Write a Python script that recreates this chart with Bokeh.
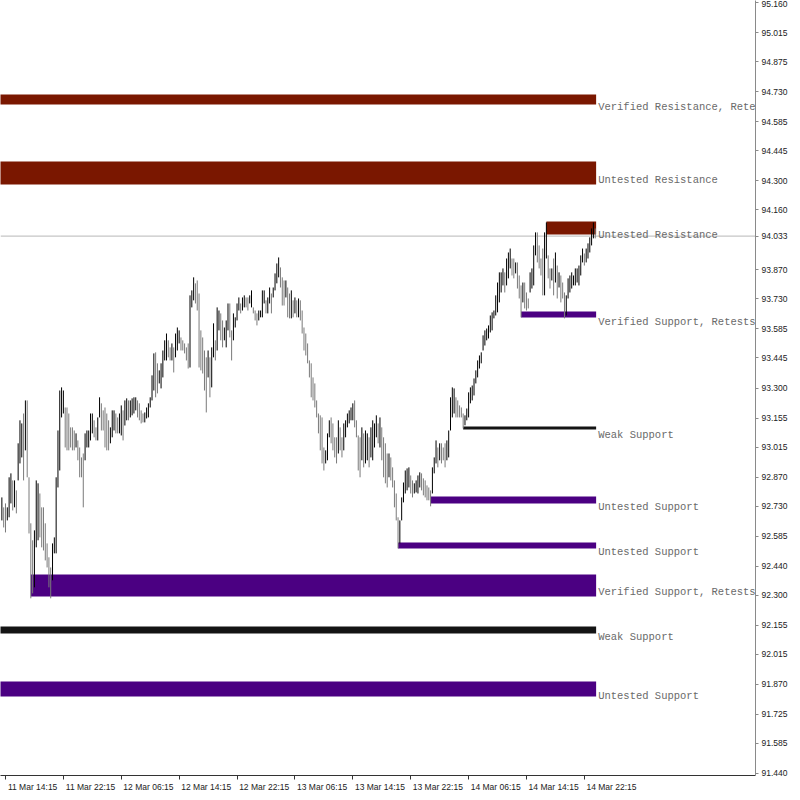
import pandas as pd
from bokeh.plotting import figure
from bokeh.models import ColumnDataSource, FixedTicker, Span, PrintfTickFormatter
from bokeh.core.properties import value
from bokeh.embed import file_html
from bokeh.resources import INLINE

# ---------------- data ----------------
first_bar_time = "2019-03-11 13:45"   # M15 bars
last_price = 94.033

highs = [
    92.772, 92.724, 92.743, 92.724, 92.869, 92.888, 92.854, 92.854, 92.806, 93.033,
    93.144, 93.129, 93.177, 93.240, 93.240, 92.869, 92.647, 92.565, 92.613, 92.854,
    92.840, 92.791, 92.724, 92.724, 92.647, 92.550, 92.483, 92.434, 92.550, 92.579,
    92.869, 93.095, 93.288, 93.303, 93.288, 93.206, 93.206, 93.177, 93.110, 93.110,
    93.095, 93.081, 93.047, 93.013, 92.965, 92.984, 93.081, 93.095, 93.095, 93.177,
    93.177, 93.144, 93.110, 93.158, 93.255, 93.226, 93.192, 93.206, 93.177, 93.144,
    93.110, 93.192, 93.192, 93.177, 93.158, 93.177, 93.216, 93.192, 93.240, 93.250,
    93.240, 93.240, 93.250, 93.255, 93.255, 93.240, 93.226, 93.192, 93.177, 93.182,
    93.206, 93.226, 93.255, 93.361, 93.467, 93.472, 93.419, 93.385, 93.419, 93.481,
    93.530, 93.563, 93.530, 93.496, 93.515, 93.496, 93.563, 93.592, 93.578, 93.544,
    93.530, 93.515, 93.496, 93.515, 93.747, 93.771, 93.834, 93.805, 93.819, 93.756,
    93.578, 93.544, 93.481, 93.448, 93.481, 93.448, 93.496, 93.612, 93.530, 93.689,
    93.674, 93.660, 93.626, 93.592, 93.626, 93.708, 93.708, 93.578, 93.660, 93.641,
    93.708, 93.737, 93.708, 93.737, 93.747, 93.737, 93.737, 93.747, 93.771, 93.689,
    93.674, 93.660, 93.674, 93.674, 93.771, 93.771, 93.723, 93.737, 93.785, 93.756,
    93.785, 93.853, 93.901, 93.930, 93.882, 93.834, 93.819, 93.819, 93.785, 93.756,
    93.771, 93.723, 93.737, 93.723, 93.732, 93.723, 93.674, 93.592, 93.563, 93.515,
    93.433, 93.419, 93.351, 93.322, 93.240, 93.177, 93.168, 93.158, 93.013, 92.999,
    93.081, 93.144, 93.158, 93.129, 93.062, 93.062, 93.144, 93.110, 93.062, 93.129,
    93.144, 93.177, 93.192, 93.206, 93.226, 93.240, 93.144, 93.071, 93.062, 93.110,
    93.081, 93.095, 93.081, 93.062, 93.110, 93.144, 93.129, 93.168, 93.129, 93.158,
    93.110, 93.062, 93.033, 92.984, 92.984, 92.965, 92.917, 92.854, 92.791, 92.676,
    92.661, 92.772, 92.844, 92.902, 92.912, 92.917, 92.878, 92.854, 92.840, 92.854,
    92.878, 92.893, 92.888, 92.864, 92.854, 92.830, 92.820, 92.806, 92.917, 92.965,
    93.047, 93.013, 93.033, 93.033, 93.013, 93.033, 93.047, 93.095, 93.255, 93.303,
    93.298, 93.255, 93.240, 93.216, 93.206, 93.177, 93.168, 93.201, 93.279, 93.303,
    93.312, 93.346, 93.385, 93.433, 93.457, 93.472, 93.554, 93.578, 93.587, 93.602,
    93.650, 93.665, 93.674, 93.747, 93.809, 93.858, 93.858, 93.877, 93.858, 93.925,
    93.954, 93.973, 93.925, 93.925, 93.906, 93.906, 93.843, 93.795, 93.809, 93.809,
    93.761, 93.732, 93.858, 93.877, 93.988, 94.051, 94.051, 93.988, 93.925, 93.973,
    94.051, 94.099, 93.940, 93.877, 93.877, 93.925, 93.954, 93.891, 93.858, 93.843,
    93.809, 93.761, 93.747, 93.829, 93.843, 93.858, 93.843, 93.877, 93.877, 93.891,
    93.940, 93.973, 93.949, 93.973, 93.998, 94.027, 94.070, 94.099, 94.070,
]

lows = [
    92.661, 92.627, 92.603, 92.661, 92.676, 92.743, 92.709, 92.724, 92.695, 92.854,
    92.936, 92.965, 92.854, 92.999, 92.869, 92.598, 92.285, 92.309, 92.338, 92.531,
    92.565, 92.579, 92.531, 92.516, 92.468, 92.434, 92.338, 92.285, 92.372, 92.502,
    92.502, 92.820, 92.902, 93.158, 93.177, 93.013, 92.999, 92.999, 93.013, 92.999,
    92.999, 93.013, 92.951, 92.869, 92.869, 92.724, 92.951, 93.013, 93.013, 93.047,
    93.081, 93.062, 93.047, 93.047, 93.158, 93.095, 93.095, 93.013, 92.999, 92.999,
    93.033, 93.062, 93.095, 93.081, 93.081, 93.081, 93.071, 93.047, 93.119, 93.144,
    93.144, 93.158, 93.168, 93.177, 93.192, 93.158, 93.144, 93.129, 93.134, 93.134,
    93.153, 93.158, 93.206, 93.240, 93.288, 93.255, 93.274, 93.322, 93.298, 93.351,
    93.433, 93.433, 93.448, 93.433, 93.433, 93.375, 93.448, 93.481, 93.515, 93.481,
    93.481, 93.467, 93.433, 93.394, 93.399, 93.689, 93.723, 93.708, 93.674, 93.399,
    93.385, 93.370, 93.288, 93.182, 93.351, 93.255, 93.303, 93.448, 93.433, 93.481,
    93.578, 93.530, 93.496, 93.530, 93.496, 93.578, 93.544, 93.433, 93.530, 93.592,
    93.626, 93.674, 93.660, 93.674, 93.689, 93.689, 93.674, 93.708, 93.689, 93.660,
    93.626, 93.602, 93.626, 93.641, 93.641, 93.708, 93.660, 93.660, 93.708, 93.660,
    93.737, 93.771, 93.805, 93.834, 93.785, 93.698, 93.698, 93.737, 93.641, 93.636,
    93.636, 93.641, 93.660, 93.641, 93.641, 93.626, 93.563, 93.481, 93.457, 93.419,
    93.351, 93.255, 93.240, 93.206, 93.158, 93.081, 92.999, 92.936, 92.902, 92.936,
    92.951, 93.062, 93.033, 92.999, 92.965, 92.936, 92.984, 92.999, 92.965, 92.999,
    93.062, 93.110, 93.129, 93.144, 93.144, 93.110, 93.062, 92.902, 92.869, 92.951,
    92.917, 92.936, 92.951, 92.917, 92.965, 92.951, 93.013, 93.062, 93.033, 93.013,
    92.951, 92.869, 92.840, 92.820, 92.869, 92.854, 92.820, 92.724, 92.661, 92.526,
    92.550, 92.661, 92.748, 92.791, 92.806, 92.820, 92.791, 92.772, 92.791, 92.796,
    92.791, 92.820, 92.806, 92.782, 92.772, 92.758, 92.758, 92.729, 92.791, 92.888,
    92.936, 92.917, 92.951, 92.936, 92.951, 92.917, 92.951, 92.965, 93.095, 93.158,
    93.177, 93.158, 93.158, 93.158, 93.158, 93.105, 93.120, 93.144, 93.158, 93.226,
    93.240, 93.264, 93.322, 93.351, 93.394, 93.419, 93.481, 93.505, 93.530, 93.539,
    93.568, 93.578, 93.636, 93.650, 93.665, 93.713, 93.761, 93.795, 93.761, 93.795,
    93.829, 93.877, 93.843, 93.829, 93.853, 93.780, 93.732, 93.641, 93.713, 93.684,
    93.674, 93.684, 93.761, 93.780, 93.795, 93.940, 93.906, 93.877, 93.843, 93.747,
    93.747, 93.925, 93.829, 93.780, 93.819, 93.747, 93.809, 93.732, 93.785, 93.713,
    93.732, 93.636, 93.650, 93.732, 93.761, 93.780, 93.795, 93.795, 93.809, 93.795,
    93.843, 93.906, 93.891, 93.906, 93.925, 93.954, 93.988, 94.022, 94.022,
]

# price-axis labels as shown (94.015 is hidden behind the current-price marker)
price_ticks = [91.440, 91.585, 91.725, 91.870, 92.015, 92.155, 92.300, 92.440,
               92.585, 92.730, 92.870, 93.015, 93.155, 93.300, 93.445, 93.585,
               93.730, 93.870, 94.160, 94.300, 94.445, 94.585, 94.730,
               94.875, 95.015, 95.160]

zone_names = ["Verified Resistance, Retests = 2", "Untested Resistance",
              "Untested Resistance", "Verified Support, Retests = 2",
              "Weak Support", "Untested Support", "Untested Support",
              "Verified Support, Retests = 3", "Weak Support", "Untested Support"]
zone_top = [94.716, 94.393, 94.103, 93.669, 93.114, 92.777, 92.555, 92.400, 92.149, 91.884]
zone_bottom = [94.668, 94.282, 94.041, 93.640, 93.100, 92.743, 92.526, 92.294, 92.115, 91.811]
zone_start_bar = [-10, -10, 301, 287, 255, 237, 219, 16, -10, -10]

# ---------------- styling ----------------
RES_COLOR = "#7a1700"
SUP_COLOR = "#4b0082"
WEAK_COLOR = "#141414"
UP_COLOR = "#000000"
DOWN_COLOR = "#7a7a7a"
AX_FONT = "Liberation Sans"
AX_SIZE = "8.5px"
LABEL_SHIFT = 15   # bars: puts each date label just right of its tick
X_START, X_END = -0.76, 416.6
Y_START, Y_END = 91.430, 95.170

n = len(highs)
xs = list(range(n))
mids = [(h + l) / 2 for h, l in zip(highs, lows)]
bar_colors = [UP_COLOR if i == 0 or mids[i] >= mids[i - 1] else DOWN_COLOR for i in range(n)]

times = pd.date_range(first_bar_time, periods=n, freq="15min")
tick_idx = [i for i, t in enumerate(times) if t.minute == 15 and t.hour in (6, 14, 22)]
tick_lbl = {i + LABEL_SHIFT: times[i].strftime("%d %b %H:%M") for i in tick_idx}

p = figure(width=800, height=800, x_range=(X_START, X_END), y_range=(Y_START, Y_END),
           y_axis_location="right", toolbar_location=None, output_backend="svg",
           min_border_left=0, min_border_top=0, min_border_right=45, min_border_bottom=25)
p.xgrid.visible = False
p.ygrid.visible = False
p.outline_line_color = None
p.background_fill_color = "white"
p.border_fill_color = "white"

def zcol(name):
    if "Resistance" in name:
        return RES_COLOR
    if "Weak" in name:
        return WEAK_COLOR
    return SUP_COLOR

zsrc = ColumnDataSource(dict(left=zone_start_bar, right=[n - 0.5] * len(zone_top),
                             top=zone_top, bottom=zone_bottom,
                             mid=[(t + b) / 2 for t, b in zip(zone_top, zone_bottom)],
                             name=zone_names,
                             color=[zcol(z) for z in zone_names]))
p.quad(left="left", right="right", top="top", bottom="bottom", fill_color="color",
       line_color=None, source=zsrc)

p.add_layout(Span(location=last_price, dimension="width", line_color="#b8b8b8", line_width=1,
                  level="underlay"))

bsrc = ColumnDataSource(dict(x=xs, high=highs, low=lows, color=bar_colors))
p.segment(x0="x", y0="low", x1="x", y1="high", line_color="color", line_width=1, source=bsrc)

p.text(x="right", y="mid", text="name", source=zsrc,
       x_offset=2, y_offset=7, text_baseline="middle", text_align="left",
       text_font=value("Liberation Mono"), text_font_size="10.5px", text_color="#6a6a6a")

xa = p.xaxis[0]
xa.ticker = FixedTicker(ticks=list(tick_lbl.keys()), minor_ticks=tick_idx)
xa.major_label_overrides = tick_lbl
xa.major_tick_line_color = None
xa.major_tick_in = 0
xa.major_tick_out = 4
xa.minor_tick_in = 0
xa.minor_tick_out = 4
xa.minor_tick_line_color = "#333333"
xa.axis_line_color = "#333333"
xa.major_label_standoff = 2
xa.major_label_text_font = AX_FONT
xa.major_label_text_font_size = AX_SIZE
xa.major_label_text_color = "#222222"

ya = p.yaxis[0]
ya.ticker = FixedTicker(ticks=sorted(price_ticks + [last_price]))
ya.formatter = PrintfTickFormatter(format="%.3f")
ya.major_label_text_font = AX_FONT
ya.major_label_text_font_size = AX_SIZE
ya.major_label_text_color = "#222222"
ya.major_tick_in = 0
ya.major_tick_out = 3
ya.minor_tick_out = 0
ya.minor_tick_in = 0
ya.major_label_standoff = 3
ya.axis_line_color = "#8a8a8a"
ya.major_tick_line_color = "#8a8a8a"

html = file_html(p, INLINE)
html = html.replace("<head>", "<head>\n<style>html, body {margin:0; padding:0;}</style>", 1)
open("out.html", "w").write(html)
